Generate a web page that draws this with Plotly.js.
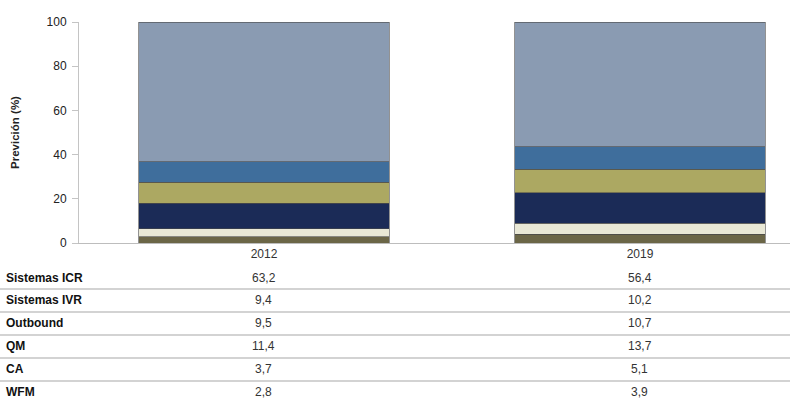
<!DOCTYPE html>
<html><head><meta charset="utf-8">
<script src="https://cdn.plot.ly/plotly-3.0.1.min.js"></script>
<style>body{margin:0;background:#fff}#chart{width:790px;height:402px}</style>
</head><body><div id="chart"></div>
<script>
var years = ['2012', '2019'];
var seriesNames = ['WFM', 'CA', 'QM', 'Outbound', 'Sistemas IVR', 'Sistemas ICR'];
var WFM = [2.8, 3.9];
var CA = [3.7, 5.1];
var QM = [11.4, 13.7];
var Outbound = [9.5, 10.7];
var SistemasIVR = [9.4, 10.2];
var SistemasICR = [63.2, 56.4];
var yTicks = [0, 20, 40, 60, 80, 100];

var seriesValues = [WFM, CA, QM, Outbound, SistemasIVR, SistemasICR];
var colors = ['#6b6647', '#e9e8d6', '#1b2b57', '#aca862', '#3f6e9c', '#8a9bb2'];

var L = 79, T = 22, B = 243, W = 790, H = 402;
var plotH = B - T, plotW = W - L;
function py(p) { return (B - p) / plotH; }
function px(p) { return (p - L) / plotW; }

var traces = seriesValues.map(function (vals, i) {
  return {
    type: 'bar', x: [0, 1], y: vals, name: seriesNames[i],
    width: 0.665,
    marker: { color: colors[i], line: { color: '#4a4a4a', width: 0.6 } },
    hoverinfo: 'y+name'
  };
});

// table
var rowOrder = [5, 4, 3, 2, 1, 0];
var rowY = [278, 300, 323, 346, 369, 392];
var lineY = [289, 312, 335, 358, 381];
var annotations = [];
var shapes = [];
rowOrder.forEach(function (si, r) {
  annotations.push({
    xref: 'paper', yref: 'paper', x: px(4), y: py(rowY[r]),
    xanchor: 'left', yanchor: 'middle', showarrow: false,
    text: '<b>' + seriesNames[si] + '</b>',
    font: { family: 'Liberation Sans, Arial, sans-serif', size: 12, color: '#111' }
  });
  seriesValues[si].forEach(function (v, j) {
    annotations.push({
      xref: 'x', yref: 'paper', x: j, y: py(rowY[r]),
      xanchor: 'center', yanchor: 'middle', showarrow: false,
      text: v.toFixed(1).replace('.', ','),
      font: { family: 'Liberation Sans, Arial, sans-serif', size: 12, color: '#333' }
    });
  });
});
lineY.forEach(function (ly) {
  shapes.push({
    type: 'line', xref: 'paper', yref: 'paper', x0: px(0), x1: 1, y0: py(ly), y1: py(ly),
    line: { color: '#c4c4c4', width: 1.5 }
  });
});

var layout = {
  width: W, height: H,
  margin: { l: L, r: 0, t: T, b: H - B },
  barmode: 'stack', showlegend: false,
  paper_bgcolor: '#fff', plot_bgcolor: '#fff',
  font: { family: 'Liberation Sans, Arial, sans-serif', size: 12, color: '#333' },
  xaxis: {
    range: [-0.492, 1.399], tickvals: [0, 1], ticktext: years,
    showgrid: false, zeroline: false, showline: true, linecolor: '#bdbdbd', linewidth: 1,
    ticks: '', tickfont: { size: 12, color: '#333' }
  },
  yaxis: {
    range: [0, 100], tickvals: yTicks, showgrid: false, zeroline: false,
    showline: true, linecolor: '#c4c4c4', linewidth: 1,
    ticks: 'outside', ticklen: 6, tickcolor: '#c4c4c4', ticklabelstandoff: 3,
    tickfont: { size: 12, color: '#222' },
    title: { text: '<b>Previción (%)</b>', standoff: 24, font: { size: 11.5, color: '#222' } }
  },
  annotations: annotations, shapes: shapes
};
Plotly.newPlot('chart', traces, layout, { displayModeBar: false, staticPlot: true });
</script></body></html>
